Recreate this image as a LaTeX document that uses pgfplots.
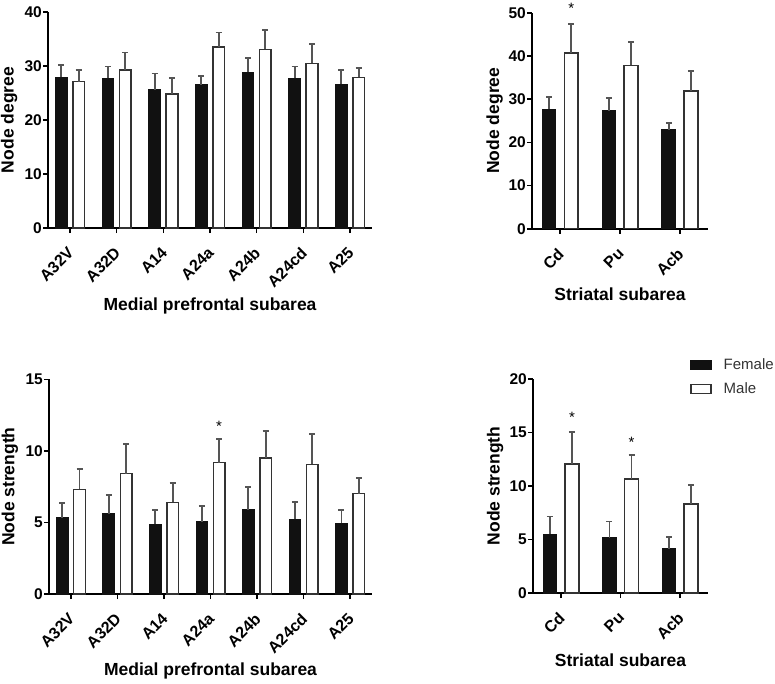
\documentclass[border=0pt]{standalone}
\usepackage{fontspec}
\setmainfont{Liberation Sans}
\usepackage{pgfplots}
\pgfplotsset{compat=1.18}
\usepackage{pgfplotstable}

\definecolor{fcol}{HTML}{111111}
\definecolor{mcol}{HTML}{333333}
\definecolor{ecol}{HTML}{555555}

% mPFC node degree
\pgfplotstableread{
x y e
0 27.9 2.3
1 27.7 2.2
2 25.6 3.0
3 26.5 1.7
4 28.8 2.7
5 27.7 2.2
6 26.6 2.6
}\degFmp
\pgfplotstableread{
x y e
0 27.1 2.2
1 29.3 3.2
2 24.8 3.0
3 33.5 2.7
4 33.1 3.6
5 30.5 3.6
6 27.9 1.8
}\degMmp
% striatal node degree
\pgfplotstableread{
x y e
0 27.7 2.8
1 27.3 2.9
2 22.9 1.5
}\degFst
\pgfplotstableread{
x y e
0 40.7 6.7
1 37.8 5.5
2 31.9 4.6
}\degMst
% mPFC node strength
\pgfplotstableread{
x y e
0 5.33 1.05
1 5.59 1.30
2 4.87 1.02
3 5.05 1.08
4 5.87 1.63
5 5.22 1.19
6 4.94 0.91
}\strFmp
\pgfplotstableread{
x y e
0 7.31 1.42
1 8.41 2.07
2 6.41 1.35
3 9.18 1.65
4 9.50 1.91
5 9.06 2.14
6 7.01 1.10
}\strMmp
% striatal node strength
\pgfplotstableread{
x y e
0 5.47 1.68
1 5.16 1.53
2 4.14 1.12
}\strFst
\pgfplotstableread{
x y e
0 12.07 2.95
1 10.64 2.24
2 8.34 1.74
}\strMst

\newcommand{\rl}[1]{\rotatebox{45}{#1}}

\pgfplotsset{
  panel/.style={
    scale only axis,
    axis x line*=bottom,
    axis y line*=left,
    axis line style={line width=1.8pt, black},
    tick style={line width=1.6pt, black},
    major tick length=5pt,
    tick align=outside,
    enlargelimits=false,
    ymin=0,
    clip=false,
    /pgf/number format/assume math mode=true,
    yticklabel style={font=\fontsize{15.5}{18}\selectfont\bfseries, inner sep=1pt},
    xticklabel style={font=\fontsize{16}{19}\selectfont\bfseries, anchor=north east, inner sep=0pt, xshift=5pt, yshift=-13pt},
    label style={font=\fontsize{17.5}{20}\selectfont\bfseries},
  },
  errs/.style={
    /pgfplots/error bars/y dir=plus,
    /pgfplots/error bars/y explicit,
    /pgfplots/error bars/error mark=-,
    /pgfplots/error bars/error bar style={line width=1.8pt, ecol},
    /pgfplots/error bars/error mark options={rotate=90, line width=1.8pt, ecol, mark size=3pt}},
  fbar/.style={ybar, bar width=#1, bar shift=0, fill=fcol, draw=fcol, line width=1pt, errs},
  mbar/.style={ybar, bar width=#1, bar shift=0, fill=white, draw=mcol, line width=1.5pt, errs},
}
\tikzset{star/.style={font=\fontsize{15}{15}\selectfont, anchor=north, inner sep=0pt}}

\begin{document}
\begin{tikzpicture}
\path[use as bounding box] (0pt,0pt) rectangle (775pt,-684pt);

% Top-left
\begin{axis}[panel, at={(48pt,-228pt)}, anchor=south west,
  width=324pt, height=216pt,
  xmin=-0.47, xmax=6.47, ymax=40, ytick={0,10,20,30,40},
  xtick={0,...,6}, xticklabels={\rl{A32V},\rl{A32D},\rl{A14},\rl{A24a},\rl{A24b},\rl{A24cd},\rl{A25}},
  ylabel={Node degree}, xlabel={Medial prefrontal subarea},
  ylabel style={at={(axis description cs:-0.12,0.5)}, anchor=center},
  xlabel style={at={(axis description cs:0.5,-0.36)}, anchor=center}]
\addplot[fbar=0.25] table[x expr=\thisrow{x}-0.186, y=y, y error=e] {\degFmp};
\addplot[mbar=0.25] table[x expr=\thisrow{x}+0.186, y=y, y error=e] {\degMmp};
\end{axis}

% Top-right
\begin{axis}[panel, at={(532pt,-228.7pt)}, anchor=south west,
  width=176pt, height=216pt,
  xmin=-0.47, xmax=2.47, ymax=50, ytick={0,10,20,30,40,50},
  xtick={0,1,2}, xticklabels={\rl{Cd},\rl{Pu},\rl{Acb}},
  ylabel={Node degree}, xlabel={Striatal subarea},
  ylabel style={at={(axis description cs:-0.212,0.5)}, anchor=center},
  xlabel style={at={(axis description cs:0.5,-0.305)}, anchor=center}]
\addplot[fbar=0.23] table[x expr=\thisrow{x}-0.185, y=y, y error=e] {\degFst};
\addplot[mbar=0.23] table[x expr=\thisrow{x}+0.185, y=y, y error=e] {\degMst};
\node[star] at (axis cs:0.185,52.2) {*};
\end{axis}

% Bottom-left
\begin{axis}[panel, at={(49pt,-594pt)}, anchor=south west,
  width=323pt, height=214.7pt,
  xmin=-0.47, xmax=6.47, ymax=15, ytick={0,5,10,15},
  xtick={0,...,6}, xticklabels={\rl{A32V},\rl{A32D},\rl{A14},\rl{A24a},\rl{A24b},\rl{A24cd},\rl{A25}},
  ylabel={Node strength}, xlabel={Medial prefrontal subarea},
  ylabel style={at={(axis description cs:-0.121,0.5)}, anchor=center},
  xlabel style={at={(axis description cs:0.5,-0.36)}, anchor=center}]
\addplot[fbar=0.25] table[x expr=\thisrow{x}-0.186, y=y, y error=e] {\strFmp};
\addplot[mbar=0.25] table[x expr=\thisrow{x}+0.186, y=y, y error=e] {\strMmp};
\node[star] at (axis cs:3.186,12.1) {*};
\end{axis}

% Bottom-right
\begin{axis}[panel, at={(533pt,-593pt)}, anchor=south west,
  width=175pt, height=214pt,
  xmin=-0.47, xmax=2.47, ymax=20, ytick={0,5,10,15,20},
  xtick={0,1,2}, xticklabels={\rl{Cd},\rl{Pu},\rl{Acb}},
  ylabel={Node strength}, xlabel={Striatal subarea},
  ylabel style={at={(axis description cs:-0.217,0.5)}, anchor=center},
  xlabel style={at={(axis description cs:0.5,-0.316)}, anchor=center},
  legend style={at={(rel axis cs:0.897,1.101)}, anchor=north west, draw=none, fill=none,
    inner sep=0pt, font=\fontsize{15}{18}\selectfont, row sep=10pt, column sep=11pt,
    nodes={inner sep=1pt, text=mcol}},
  legend cell align=left,
  legend image code/.code={\draw[#1, line width=1.5pt] (0pt,-4.5pt) rectangle (20pt,4.5pt);}]
\addplot[fbar=0.23] table[x expr=\thisrow{x}-0.185, y=y, y error=e] {\strFst};
\addlegendentry{Female}
\addplot[mbar=0.23] table[x expr=\thisrow{x}+0.185, y=y, y error=e] {\strMst};
\addlegendentry{Male}
\node[star] at (axis cs:0.185,16.94) {*};
\node[star] at (axis cs:1.185,14.6) {*};
\end{axis}
\end{tikzpicture}
\end{document}
